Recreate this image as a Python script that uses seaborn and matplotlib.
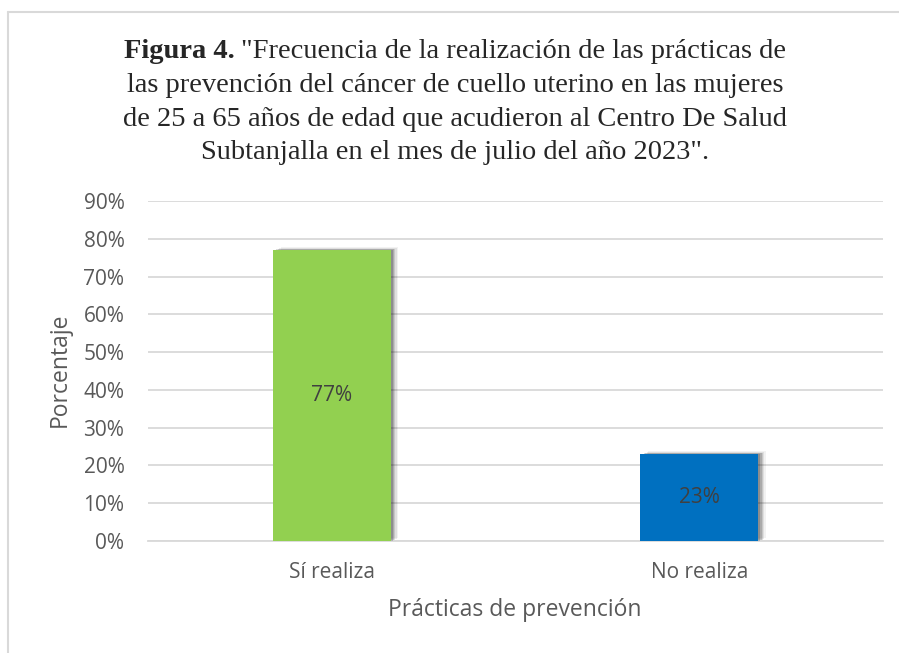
import matplotlib
matplotlib.use("Agg")
import matplotlib.pyplot as plt
import matplotlib.patheffects as pe
import seaborn as sns
import pandas as pd

categorias = ["Sí realiza", "No realiza"]
porcentajes = [77, 23]
colores = ["#92D050", "#0070C0"]
ticks_y = [0, 10, 20, 30, 40, 50, 60, 70, 80, 90]

sns.set_theme(style="white")
plt.rcParams['font.family'] = ['Open Sans', 'DejaVu Sans']

df = pd.DataFrame({'practica': categorias, 'pct': porcentajes})

W, H = 899, 653
fig = plt.figure(figsize=(W / 100, H / 100), dpi=100)
ax = fig.add_axes([148 / W, 1 - 541 / H, 735 / W, 340 / H])

sns.barplot(data=df, x='practica', y='pct', hue='practica', palette=colores,
            saturation=1, width=0.32, legend=False, ax=ax, zorder=3)

# sombra difusa a la derecha y arriba, como en Excel
sombra = [pe.SimplePatchShadow(offset=(5.5, 2), shadow_rgbFace='#000000', alpha=0.05),
          pe.SimplePatchShadow(offset=(4.5, 1.5), shadow_rgbFace='#000000', alpha=0.08),
          pe.SimplePatchShadow(offset=(3.5, 1), shadow_rgbFace='#000000', alpha=0.11),
          pe.SimplePatchShadow(offset=(2.5, 0.5), shadow_rgbFace='#000000', alpha=0.14),
          pe.SimplePatchShadow(offset=(1.5, 0), shadow_rgbFace='#000000', alpha=0.17),
          pe.Normal()]
for p in ax.patches:
    p.set_path_effects(sombra)
    p.set_linewidth(0)

for p, v in zip(ax.patches, porcentajes):
    ax.text(p.get_x() + p.get_width() / 2, v / 2, f"{v}%", ha='center', va='center',
            fontsize=15, color='#404040', zorder=5)

ax.set_ylim(0, 90)
ax.set_yticks(ticks_y)
ax.set_yticklabels([f"{t}%" for t in ticks_y])
ax.yaxis.grid(True, color='#d9d9d9', linewidth=1.3)
ax.set_axisbelow(True)
for s in ['top', 'right', 'left']:
    ax.spines[s].set_visible(False)
ax.spines['bottom'].set_color('#d9d9d9')
ax.spines['bottom'].set_linewidth(1.3)
ax.tick_params(axis='both', length=0, labelsize=15, labelcolor='#595959')
ax.tick_params(axis='y', pad=17)
ax.tick_params(axis='x', pad=15)

ax.set_xlabel("Prácticas de prevención", fontsize=16.5, color='#595959')
ax.set_ylabel("Porcentaje", fontsize=16.5, color='#595959')
ax.xaxis.set_label_coords((515 - 148) / 735, -(610 - 541) / 340)
ax.yaxis.set_label_coords(-(148 - 60) / 735, (541 - 370) / 340)
ax.xaxis.label.set_va('center')
ax.yaxis.label.set_va('center')

titulo = ["\"Frecuencia de la realización de las prácticas de",
          "las prevención del cáncer de cuello uterino en las mujeres",
          "de 25 a 65 años de edad que acudieron al Centro De Salud",
          "Subtanjalla en el mes de julio del año 2023\"."]
serif = ['Liberation Serif', 'DejaVu Serif']
fs_t = 20.5
# primera línea con "Figura 4." en negrita
t1 = fig.text(0, 0, "Figura 4. ", fontsize=fs_t, fontweight='bold', family=serif)
t2 = fig.text(0, 0, titulo[0], fontsize=fs_t, family=serif)
fig.canvas.draw()
r = fig.canvas.get_renderer()
w1 = t1.get_window_extent(r).width
w2 = t2.get_window_extent(r).width
x0 = (455 - (w1 + w2) / 2) / W
y1 = 1 - 51 / H
t1.set_position((x0, y1))
t1.set_va('center')
t2.set_position((x0 + w1 / W, y1))
t2.set_va('center')
for i, linea in enumerate(titulo[1:], start=1):
    fig.text(455 / W, 1 - (51 + 34 * i) / H, linea, ha='center', va='center',
             fontsize=fs_t, family=serif)

fig.add_artist(plt.Line2D([8 / W, 8 / W], [0, 1 - 12 / H], color='#d9d9d9', linewidth=1.5))
fig.add_artist(plt.Line2D([8 / W, 1], [1 - 12 / H, 1 - 12 / H], color='#d9d9d9', linewidth=1.5))

fig.savefig("out.png", dpi=100)
